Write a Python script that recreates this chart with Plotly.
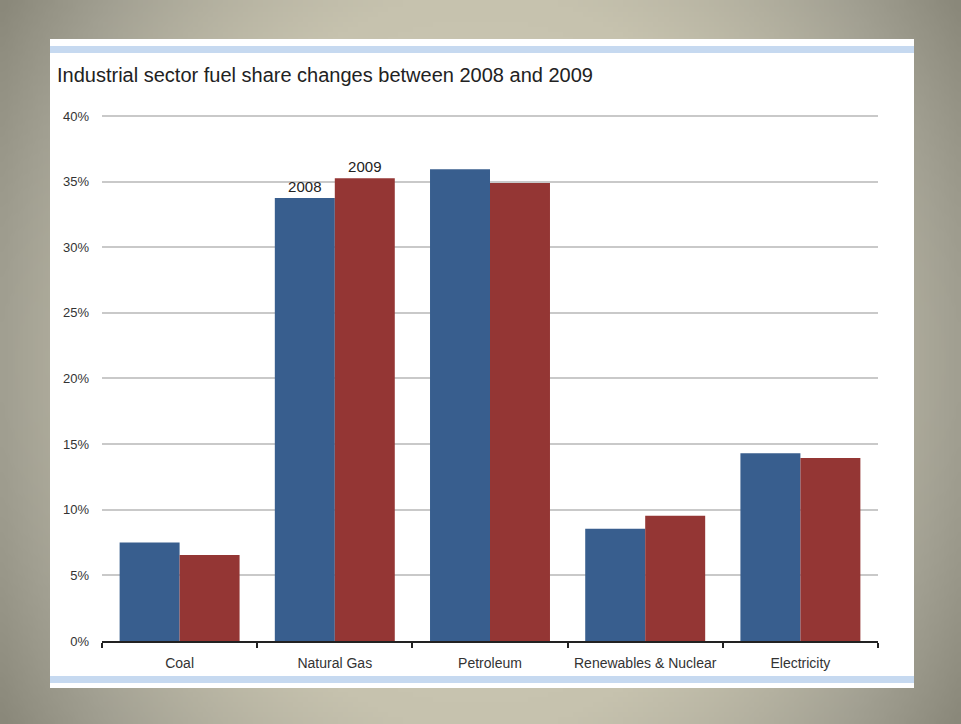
import base64
import struct
import zlib

import numpy as np
import plotly.graph_objects as go

# Fuel share of industrial sector energy use (%)
categories = ["Coal", "Natural Gas", "Petroleum", "Renewables & Nuclear", "Electricity"]
share_2008 = [7.5, 33.75, 35.95, 8.55, 14.3]
share_2009 = [6.55, 35.25, 34.9, 9.55, 13.95]
series_names = ["2008", "2009"]
y_ticks = [0, 5, 10, 15, 20, 25, 30, 35, 40]

W, H = 961, 724
FONT = "Liberation Sans, Arial, sans-serif"
BLUE = "#385e8e"
RED = "#943634"

# y range runs a hair past 40% so the top gridline is still drawn
Y_MAX = 40.1
Y0_PX, Y40_PX = 641, 116
Y_TOP_PX = Y0_PX - (Y0_PX - Y40_PX) * Y_MAX / 40


def slide_background(w=192, h=145):
    """Soft grey-taupe slide gradient, lighter in the middle, darker at the edges."""
    xs = (np.arange(w) - (w - 1) / 2) / ((w - 1) / 2)
    ys = (np.arange(h) - (h - 1) / 2) / ((h - 1) / 2)
    gx, gy = np.meshgrid(xs, ys)
    t = np.clip(0.72 * gx ** 2 + 0.28 * gy ** 2, 0, 1)
    stops_t = [0.0, 0.3, 0.7, 1.0]
    stops_c = np.array([[205, 201, 181], [198, 194, 174], [163, 161, 147], [138, 136, 122]], float)
    img = np.zeros((h, w, 3), np.uint8)
    for c in range(3):
        img[..., c] = np.interp(t, stops_t, stops_c[:, c]).astype(np.uint8)
    raw = b"".join(b"\x00" + img[r].tobytes() for r in range(h))

    def chunk(tag, data):
        return (struct.pack(">I", len(data)) + tag + data
                + struct.pack(">I", zlib.crc32(tag + data) & 0xFFFFFFFF))

    png = (b"\x89PNG\r\n\x1a\n"
           + chunk(b"IHDR", struct.pack(">IIBBBBB", w, h, 8, 2, 0, 0, 0))
           + chunk(b"IDAT", zlib.compress(raw, 9))
           + chunk(b"IEND", b""))
    return "data:image/png;base64," + base64.b64encode(png).decode()


def px_x(x):
    return x / W


def px_y(y):
    return 1 - y / H


fig = go.Figure()
for name, vals, color in [(series_names[0], share_2008, BLUE), (series_names[1], share_2009, RED)]:
    labels = [name if c == "Natural Gas" else "" for c in categories]
    fig.add_trace(go.Bar(
        x=categories, y=vals, name=name, marker=dict(color=color, line=dict(width=0)),
        text=labels, textposition="outside", cliponaxis=False,
        textfont=dict(family=FONT, size=15, color="#222222"),
        hoverinfo="x+y+name",
    ))

shapes = [
    # white slide panel
    dict(type="rect", xref="paper", yref="paper", x0=px_x(50), x1=px_x(914),
         y0=px_y(688), y1=px_y(39), fillcolor="white", line=dict(width=0), layer="below"),
    # light blue rules at top and bottom of the panel
    dict(type="rect", xref="paper", yref="paper", x0=px_x(50), x1=px_x(914),
         y0=px_y(53), y1=px_y(46), fillcolor="#c6d9f0", line=dict(width=0), layer="below"),
    dict(type="rect", xref="paper", yref="paper", x0=px_x(50), x1=px_x(914),
         y0=px_y(683), y1=px_y(676), fillcolor="#c6d9f0", line=dict(width=0), layer="below"),
]

fig.update_layout(
    width=W, height=H,
    margin=dict(l=0, r=0, t=0, b=0, autoexpand=False),
    paper_bgcolor="#a9a795",
    plot_bgcolor="rgba(0,0,0,0)",
    showlegend=False,
    barmode="group",
    bargap=0.227,
    bargroupgap=0,
    font=dict(family=FONT, color="#333333"),
    shapes=shapes,
    images=[dict(source=slide_background(), xref="paper", yref="paper", x=0, y=1,
                 sizex=1, sizey=1, xanchor="left", yanchor="top",
                 sizing="stretch", layer="below")],
    annotations=[dict(
        text="Industrial sector fuel share changes between 2008 and 2009",
        xref="paper", yref="paper", x=px_x(55), y=px_y(75),
        xanchor="left", yanchor="middle", showarrow=False,
        font=dict(family=FONT, size=20, color="#222222"),
    )],
    xaxis=dict(
        domain=[px_x(102), px_x(878)], automargin=False,
        showgrid=False, showline=True, linecolor="#222222", linewidth=1.5,
        ticks="outside", tickson="boundaries", ticklen=5, tickcolor="#222222", tickwidth=1.5,
        tickfont=dict(family=FONT, size=14, color="#333333"),
        ticklabelstandoff=8,
    ),
    yaxis=dict(
        domain=[px_y(Y0_PX), px_y(Y_TOP_PX)], automargin=False,
        range=[0, Y_MAX], tickvals=y_ticks, ticktext=[f"{v}%" for v in y_ticks],
        showgrid=True, gridcolor="#c9c9c9", gridwidth=2,
        zeroline=False, showline=False, ticks="",
        tickfont=dict(family=FONT, size=13, color="#333333"),
        ticklabelstandoff=12,
    ),
)

fig.write_html("out.html")
